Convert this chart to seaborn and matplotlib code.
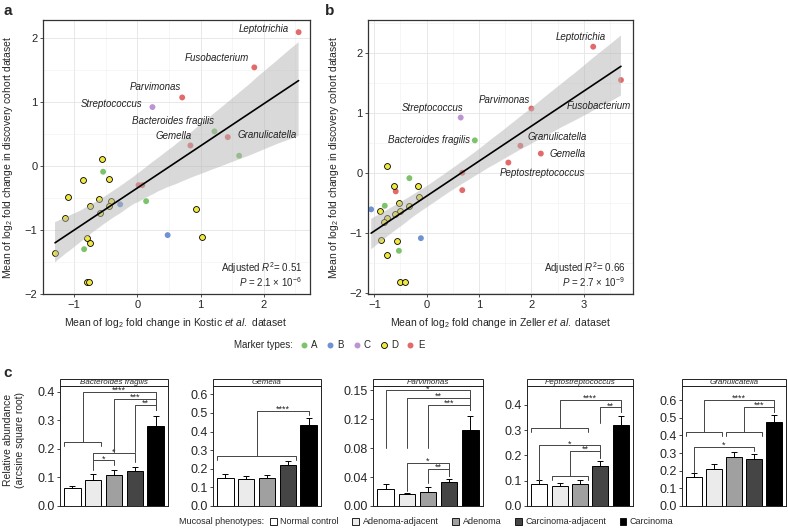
import numpy as np
import pandas as pd
import matplotlib
matplotlib.use('Agg')
import matplotlib.pyplot as plt
import seaborn as sns
from matplotlib.lines import Line2D
from matplotlib.patches import Patch, Rectangle
from matplotlib.ticker import MultipleLocator


# **********Data**********
# panel a: Kostic et al. vs discovery cohort
kostic_x = [2.55, 1.85, 0.71, 0.24, 1.22, 0.84, 1.43, 1.61, -0.55, -0.54, -0.85, -0.45, -1.10, -0.61, -0.75, -0.41,
            -0.44, -0.59, -0.27, 0.02, 0.08, 0.14, 0.93, 0.48, 1.02, -1.15, -0.79, -0.74, -0.84, -1.30, -0.79, -0.77]
kostic_y = [2.09, 1.54, 1.07, 0.92, 0.54, 0.32, 0.45, 0.16, 0.11, -0.09, -0.22, -0.21, -0.49, -0.51, -0.63, -0.55,
            -0.63, -0.74, -0.60, -0.30, -0.30, -0.55, -0.67, -1.08, -1.11, -0.81, -1.13, -1.20, -1.30, -1.36, -1.81, -1.82]
kostic_type = ['E', 'E', 'E', 'C', 'A', 'E', 'E', 'A', 'D', 'A', 'D', 'D', 'D', 'D', 'D', 'D',
               'D', 'D', 'B', 'E', 'E', 'A', 'D', 'B', 'D', 'D', 'D', 'D', 'A', 'D', 'D', 'D']
kostic_names = ['Leptotrichia', 'Fusobacterium', 'Parvimonas', 'Streptococcus', 'Bacteroides fragilis',
                'Gemella', 'Granulicatella']

# panel b: Zeller et al. vs discovery cohort
zeller_x = [3.18, 3.71, 2.00, 0.65, 0.92, 1.79, 2.18, 1.56, 0.68, 0.68, -0.33, -0.17, -0.15, -0.52, -0.34, -0.50,
            -0.61, -0.62, -0.59, -0.56, -0.53, -0.11, -0.51, -0.41, -0.76, -0.80, -0.76, -0.81, -1.06, -0.89, -0.87, -0.76]
zeller_y = [2.10, 1.545, 1.07, 0.92, 0.54, 0.45, 0.32, 0.17, 0.00, -0.29, -0.09, -0.22, -0.40, -0.50, -0.55, -0.63,
            -0.68, -0.22, -0.31, -1.14, -1.30, -1.09, -1.82, -1.82, 0.11, -0.55, -0.76, -0.82, -0.61, -0.64, -1.12, -1.37]
zeller_type = ['E', 'E', 'E', 'C', 'A', 'E', 'E', 'E', 'E', 'E', 'A', 'D', 'D', 'D', 'D', 'D',
               'D', 'D', 'E', 'D', 'A', 'B', 'D', 'D', 'D', 'A', 'D', 'D', 'B', 'D', 'D', 'D']
zeller_names = ['Leptotrichia', 'Fusobacterium', 'Parvimonas', 'Streptococcus', 'Bacteroides fragilis',
                'Granulicatella', 'Gemella', 'Peptostreptococcus']

marker_types = ['A', 'B', 'C', 'D', 'E']

# panel c: mean and upper standard error per mucosal phenotype
phenotypes = ['Normal control', 'Adenoma-adjacent', 'Adenoma', 'Carcinoma-adjacent', 'Carcinoma']
bfrag_mean = [0.062, 0.091, 0.110, 0.122, 0.281]
bfrag_se = [0.009, 0.021, 0.017, 0.016, 0.035]
gemella_mean = [0.149, 0.146, 0.149, 0.218, 0.433]
gemella_se = [0.021, 0.015, 0.019, 0.026, 0.042]
parvi_mean = [0.0214, 0.0150, 0.0184, 0.0309, 0.0986]
parvi_se = [0.0065, 0.0017, 0.0060, 0.0042, 0.0184]
pepto_mean = [0.088, 0.080, 0.087, 0.158, 0.321]
pepto_se = [0.013, 0.010, 0.014, 0.021, 0.035]
granu_mean = [0.166, 0.208, 0.275, 0.266, 0.474]
granu_se = [0.019, 0.028, 0.033, 0.028, 0.041]

# significance: group brackets (left, right, level) and tests (x1, foot1, x2, foot2, top, stars)
bfrag_groups = [(-0.39, 1.39, 0.224)]
bfrag_tests = [(0.5, 0.224, 4, 0.337, 0.400, '****'), (2, 0.19, 4, 0.337, 0.376, '***'),
               (3, 0.19, 4, 0.337, 0.355, '**'), (1, 0.125, 2, 0.143, 0.160, '*'),
               (1, 0.160, 3, 0.155, 0.184, '*')]
gemella_groups = [(-0.39, 3.39, 0.269)]
gemella_tests = [(1.5, 0.269, 4, 0.49, 0.51, '****')]
parvi_groups = []
parvi_tests = [(0, 0.075, 4, 0.125, 0.150, '*'), (1, 0.075, 4, 0.125, 0.1406, '**'),
               (2, 0.075, 4, 0.125, 0.1307, '***'), (1, 0.020, 3, 0.0386, 0.056, '*'),
               (2, 0.030, 3, 0.0386, 0.048, '**')]
pepto_groups = [(-0.39, 2.39, 0.308), (0.61, 2.39, 0.117)]
pepto_tests = [(1, 0.308, 4, 0.372, 0.418, '****'), (3, 0.327, 4, 0.372, 0.390, '**'),
               (1.5, 0.117, 3, 0.19, 0.218, '**'), (0, 0.104, 3, 0.19, 0.240, '*')]
granu_groups = [(-0.39, 1.39, 0.417), (1.61, 3.39, 0.417)]
granu_tests = [(0.5, 0.417, 4, 0.53, 0.600, '****'), (2.5, 0.417, 4, 0.53, 0.562, '***'),
               (0, 0.194, 3, 0.31, 0.334, '*')]

# **********Style**********
marker_colors = {'A': '#7dc36c', 'B': '#6f93d2', 'C': '#bd94d2', 'D': '#f2e93f', 'E': '#e26a6a'}
phenotype_colors = ['#ffffff', '#ebebeb', '#a0a0a0', '#454545', '#000000']

sns.set_theme(style='white')
plt.rcParams['font.family'] = ['Liberation Sans', 'DejaVu Sans']
plt.rcParams['mathtext.fontset'] = 'custom'
plt.rcParams['mathtext.rm'] = 'Liberation Sans'
plt.rcParams['mathtext.it'] = 'Liberation Sans:italic'
plt.rcParams['mathtext.bf'] = 'Liberation Sans:bold'
plt.rcParams['axes.unicode_minus'] = True

W, H = 788, 531
fig = plt.figure(figsize=(W / 100, H / 100), dpi=100)


def px_axes(left, top, right, bottom):
    return fig.add_axes([left / W, 1 - bottom / H, (right - left) / W, (bottom - top) / H])


# **********Scatter panels**********
def draw_scatter(ax, xs, ys, types, names, label_pos, xlim, ylim, xticks, r2_text, p_text):
    df = pd.DataFrame({'x': xs, 'y': ys, 'type': types})
    filled = df[df['type'] != 'D']
    ringed = df[df['type'] == 'D']
    sns.scatterplot(data=filled, x='x', y='y', hue='type',
                    palette={k: marker_colors[k] for k in filled['type'].unique()},
                    s=18, linewidth=0, legend=False, ax=ax, zorder=2)
    sns.scatterplot(data=ringed, x='x', y='y', color=marker_colors['D'], s=18, edgecolor='black',
                    linewidth=0.6, legend=False, ax=ax, zorder=2)
    sns.regplot(data=df, x='x', y='y', scatter=False, ci=95, n_boot=2000, seed=3, color='black',
                line_kws={'linewidth': 1.2, 'zorder': 4}, ax=ax)
    band = ax.collections[-1]
    band.set_facecolor('#b5b5b5')
    band.set_edgecolor('none')
    band.set_alpha(0.5)
    band.set_zorder(3)

    for i, name in enumerate(names):
        dx, dy, ha = label_pos[i]
        ax.annotate(name, (xs[i], ys[i]), xytext=(dx, dy), textcoords='offset pixels', ha=ha, va='center',
                    fontsize=7, style='italic', color='#222222', zorder=5)

    ax.set_xlim(xlim)
    ax.set_ylim(ylim)
    ax.set_xticks(xticks)
    ax.set_yticks([-2, -1, 0, 1, 2])
    ax.xaxis.set_minor_locator(MultipleLocator(0.5))
    ax.yaxis.set_minor_locator(MultipleLocator(0.5))
    ax.grid(which='major', color='#e4e4e4', linewidth=0.6)
    ax.grid(which='minor', color='#f0f0f0', linewidth=0.4)
    ax.set_axisbelow(True)
    ax.tick_params(which='major', length=2.5, width=0.6, color='#333333', labelsize=8, pad=1.5,
                   bottom=True, left=True)
    ax.tick_params(which='minor', length=0)
    for sp in ax.spines.values():
        sp.set_color('#333333')
        sp.set_linewidth(0.9)
    ax.set_xlabel('')
    ax.set_ylabel('')
    ax.text(0.97, 0.095, r'Adjusted $R^2$= ' + r2_text, transform=ax.transAxes, ha='right', va='center',
            fontsize=7)
    ax.text(0.97, 0.045, r'$P$ = ' + p_text, transform=ax.transAxes, ha='right', va='center', fontsize=7)


ax_a = px_axes(43, 20, 310, 294)
draw_scatter(ax_a, kostic_x, kostic_y, kostic_type, kostic_names,
             [(-10, 3, 'right'), (-5, 9, 'right'), (-1, 10, 'right'), (-10, 3, 'right'),
              (0, 10, 'right'), (1.5, 9.5, 'right'), (10, 2, 'left')],
             (-1.49, 2.73), (-2.0, 2.28), [-1, 0, 1, 2], '0.51', r'2.1 × 10$^{-6}$')

ax_b = px_axes(368, 20, 633, 294)
draw_scatter(ax_b, zeller_x, zeller_y, zeller_type, zeller_names,
             [(-12, 9.5, 'center'), (9.5, -25.5, 'right'), (-1, 9, 'right'), (3, 10, 'right'),
              (-5, 0, 'right'), (7, 9, 'left'), (8.5, 0, 'left'), (-9, -10, 'left')],
             (-1.12, 3.94), (-2.02, 2.545), [-1, 0, 1, 2, 3], '0.66', r'2.7 × 10$^{-9}$')

ylab = r'Mean of log$_2$ fold change in discovery cohort dataset'
fig.text(8 / W, 1 - 157 / H, ylab, rotation=90, ha='center', va='center', fontsize=7.5)
fig.text(334 / W, 1 - 157 / H, ylab, rotation=90, ha='center', va='center', fontsize=7.5)
fig.text(176 / W, 1 - 323 / H, r'Mean of log$_2$ fold change in Kostic $\mathit{et\ al.}$ dataset',
         ha='center', va='center', fontsize=7.5)
fig.text(500 / W, 1 - 323 / H, r'Mean of log$_2$ fold change in Zeller $\mathit{et\ al.}$ dataset',
         ha='center', va='center', fontsize=7.5)

# marker legend
fig.text(293 / W, 1 - 345 / H, 'Marker types:', ha='right', va='center', fontsize=7)
marker_handles = [Line2D([], [], linestyle='', marker='o', markersize=4.3,
                         markerfacecolor=marker_colors[m],
                         markeredgecolor='black' if m == 'D' else marker_colors[m],
                         markeredgewidth=0.6 if m == 'D' else 0, label=m) for m in marker_types]
fig.legend(handles=marker_handles, loc='center left', bbox_to_anchor=(300 / W, 1 - 345 / H), ncol=5,
           frameon=False, fontsize=7, handlelength=0.8, handletextpad=0.35, columnspacing=0.9,
           borderaxespad=0, borderpad=0)


# **********Bar panels**********
def draw_bars(ax, genus, means, errs, yticks, yticklabels, ymax, groups, tests):
    df = pd.DataFrame({'phenotype': phenotypes, 'value': means})
    sns.barplot(data=df, x='phenotype', y='value', hue='phenotype', order=phenotypes, hue_order=phenotypes,
                palette=dict(zip(phenotypes, phenotype_colors)), errorbar=None, width=0.78,
                edgecolor='black', linewidth=0.7, legend=False, ax=ax)
    ax.errorbar(np.arange(len(phenotypes)), means, yerr=[np.zeros(len(means)), errs], fmt='none',
                ecolor='black', elinewidth=0.7, capsize=2.5, capthick=0.7, zorder=3)

    tick = ymax * 0.03
    for left, right, level in groups:
        ax.plot([left, left, right, right], [level - tick, level, level, level - tick],
                color='#444444', linewidth=0.7, zorder=4)
    for x1, foot1, x2, foot2, top, stars in tests:
        ax.plot([x1, x1, x2, x2], [foot1, top, top, foot2], color='#444444', linewidth=0.7, zorder=4)
        ax.annotate(stars, ((x1 + x2) / 2, top), xytext=(0, 1.5), textcoords='offset pixels',
                    ha='center', va='center', fontsize=6.5, color='#222222')

    ax.set_xlim(-0.6, 4.6)
    ax.set_ylim(0, ymax)
    ax.set_xticks([])
    ax.set_yticks(yticks)
    ax.set_yticklabels(yticklabels)
    ax.set_xlabel('')
    ax.set_ylabel('')
    ax.tick_params(axis='y', left=True, length=2.5, width=0.6, labelsize=9, pad=1.5)
    for sp in ax.spines.values():
        sp.set_color('#222222')
        sp.set_linewidth(0.7)

    strip_h = 7.5 / (ax.get_position().height * H)
    ax.add_patch(Rectangle((0, 1), 1, strip_h, transform=ax.transAxes, clip_on=False,
                           facecolor='white', edgecolor='#222222', linewidth=0.7))
    ax.text(0.5, 1 + strip_h / 2, genus, transform=ax.transAxes, ha='center', va='center',
            fontsize=5.8, style='italic')


c_top, c_bottom = 386, 506
ax_c1 = px_axes(60, c_top, 168, c_bottom)
draw_bars(ax_c1, 'Bacteroides fragilis', bfrag_mean, bfrag_se, [0, 0.1, 0.2, 0.3, 0.4],
          ['0.0', '0.1', '0.2', '0.3', '0.4'], 0.42, bfrag_groups, bfrag_tests)
ax_c2 = px_axes(213, c_top, 321, c_bottom)
draw_bars(ax_c2, 'Gemella', gemella_mean, gemella_se, [0, 0.1, 0.2, 0.3, 0.4, 0.5, 0.6],
          ['0.0', '0.1', '0.2', '0.3', '0.4', '0.5', '0.6'], 0.645, gemella_groups, gemella_tests)
ax_c3 = px_axes(373, c_top, 483, c_bottom)
draw_bars(ax_c3, 'Parvimonas', parvi_mean, parvi_se, [0, 0.0375, 0.075, 0.1125, 0.15],
          ['0.00', '0.04', '0.08', '0.12', '0.15'], 0.1556, parvi_groups, parvi_tests)
ax_c4 = px_axes(527, c_top, 633, c_bottom)
draw_bars(ax_c4, 'Peptostreptococcus', pepto_mean, pepto_se, [0, 0.1, 0.2, 0.3, 0.4],
          ['0.0', '0.1', '0.2', '0.3', '0.4'], 0.474, pepto_groups, pepto_tests)
ax_c5 = px_axes(682, c_top, 786, c_bottom)
draw_bars(ax_c5, 'Granulicatella', granu_mean, granu_se, [0, 0.1, 0.2, 0.3, 0.4, 0.5, 0.6],
          ['0.0', '0.1', '0.2', '0.3', '0.4', '0.5', '0.6'], 0.68, granu_groups, granu_tests)

fig.text(14 / W, 1 - 440 / H, 'Relative abundance\n(arcsine square root)', rotation=90, ha='center',
         va='center', fontsize=7.5, multialignment='center')

# phenotype legend
fig.text(264 / W, 1 - 522 / H, 'Mucosal phenotypes:', ha='right', va='center', fontsize=6.5)
pheno_handles = [Patch(facecolor=c, edgecolor='black', linewidth=0.6, label=p)
                 for p, c in zip(phenotypes, phenotype_colors)]
fig.legend(handles=pheno_handles, loc='center left', bbox_to_anchor=(270 / W, 1 - 522 / H), ncol=5,
           frameon=False, fontsize=6.5, handlelength=0.75, handleheight=0.75, handletextpad=0.4,
           columnspacing=1.5, borderaxespad=0, borderpad=0)

# panel letters
fig.text(3 / W, 1 - 11 / H, 'a', fontsize=11, weight='bold', va='center')
fig.text(325 / W, 1 - 11 / H, 'b', fontsize=11, weight='bold', va='center')
fig.text(3 / W, 1 - 373 / H, 'c', fontsize=11, weight='bold', va='center')

plt.savefig('out.png', dpi=100)
plt.close(fig)
